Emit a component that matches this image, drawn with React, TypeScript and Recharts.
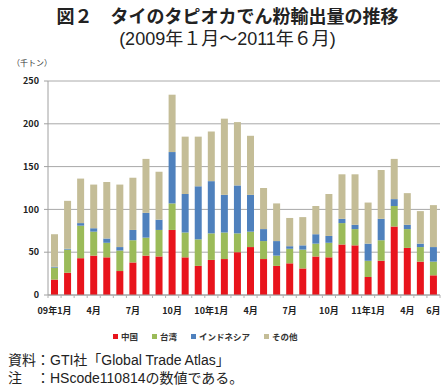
import React from 'react';
import { BarChart, Bar, XAxis, YAxis, CartesianGrid, ReferenceLine } from 'recharts';

// 2009年1月〜2011年6月（千トン）
const months = [
  '2009-01', '2009-02', '2009-03', '2009-04', '2009-05', '2009-06',
  '2009-07', '2009-08', '2009-09', '2009-10', '2009-11', '2009-12',
  '2010-01', '2010-02', '2010-03', '2010-04', '2010-05', '2010-06',
  '2010-07', '2010-08', '2010-09', '2010-10', '2010-11', '2010-12',
  '2011-01', '2011-02', '2011-03', '2011-04', '2011-05', '2011-06',
];

const tickLabels = [
  '09年1月', '', '', '4月', '', '', '7月', '', '', '10月', '', '',
  '10年1月', '', '', '4月', '', '', '7月', '', '', '10月', '', '',
  '11年1月', '', '', '4月', '', '6月',
];

const china = [18, 26, 43, 46, 44, 28, 38, 46, 45, 76, 44, 34, 41, 42, 50, 56, 42, 34, 37, 31, 45, 44, 59, 58, 21, 40, 80, 55, 39, 23];
const taiwan = [14, 27, 38, 28, 17, 24, 26, 21, 31, 31, 29, 31, 31, 31, 22, 18, 21, 12, 17, 22, 15, 17, 25, 19, 19, 24, 24, 22, 17, 16];
const indonesia = [1, 1, 3, 4, 5, 4, 12, 29, 12, 60, 45, 62, 61, 44, 56, 43, 14, 17, 3, 5, 11, 8, 5, 5, 20, 25, 8, 5, 4, 17];
const others = [38, 56, 52, 51, 66, 73, 61, 63, 56, 67, 67, 58, 58, 89, 74, 69, 48, 44, 33, 33, 33, 49, 52, 59, 48, 57, 47, 37, 38, 49];

const yTicks = [0, 50, 100, 150, 200, 250];

const series = [
  { key: 'china', name: '中国', color: '#e8141c' },
  { key: 'taiwan', name: '台湾', color: '#9bbb59' },
  { key: 'indonesia', name: 'インドネシア', color: '#4f81bd' },
  { key: 'others', name: 'その他', color: '#c4bd97' },
];

const data = months.map((m, i) => ({
  month: m,
  china: china[i],
  taiwan: taiwan[i],
  indonesia: indonesia[i],
  others: others[i],
}));

const FONT = '"Noto Sans CJK JP", "Noto Sans", sans-serif';
// latin first, CJK glyphs fall back to Noto
const TEXT_FONT = '"Liberation Sans", "Noto Sans CJK JP", sans-serif';
const HALF_BAND = 392 / months.length / 2;

const XTick = (props: any) => {
  const { x, y, payload } = props;
  const idx = months.indexOf(payload.value);
  const label = tickLabels[idx];
  return (
    <g>
      {idx === 0 && <line x1={x - HALF_BAND} y1={y} x2={x - HALF_BAND} y2={y + 3} stroke="#b0b0b0" />}
      <line x1={x + HALF_BAND} y1={y} x2={x + HALF_BAND} y2={y + 3} stroke="#b0b0b0" />
      {label && (
        <text x={x} y={y + 19} textAnchor="middle" fontSize={9} fontWeight={600} fill="#222" fontFamily={FONT}>
          {label}
        </text>
      )}
    </g>
  );
};

export default function App() {
  return (
    <div style={{ position: 'absolute', left: 0, top: 0, width: 447, height: 390, background: '#fff', fontFamily: FONT }}>
      <div style={{ position: 'absolute', top: 7, left: 4, width: 447, textAlign: 'center', fontFamily: TEXT_FONT, fontSize: 18, fontWeight: 700, lineHeight: '20px', color: '#222' }}>
        図２　タイのタピオカでん粉輸出量の推移
      </div>
      <div style={{ position: 'absolute', top: 29, left: 4, width: 447, textAlign: 'center', fontFamily: TEXT_FONT, fontSize: 18, fontWeight: 400, lineHeight: '20px', color: '#222' }}>
        (2009年１月～2011年６月)
      </div>
      <div style={{ position: 'absolute', top: 57, left: 12, fontSize: 8, color: '#333' }}>（千トン）</div>

      <BarChart
        width={447}
        height={345}
        data={data}
        margin={{ top: 81, right: 7, bottom: 30, left: 0 }}
        style={{ position: 'absolute', left: 0, top: 0 }}
      >
        <CartesianGrid vertical={false} stroke="#a8a8a8" />
        <ReferenceLine y={250} stroke="#d6d6d6" />
        <XAxis
          dataKey="month"
          interval={0}
          tickLine={false}
          tickSize={0}
          tickMargin={0}
          height={20}
          stroke="#a0a0a0"
          tick={<XTick />}
        />
        <YAxis
          width={48}
          domain={[0, 250]}
          ticks={yTicks}
          tickSize={4}
          tickMargin={5}
          stroke="#a0a0a0"
          tick={{ fontSize: 9, fill: '#222', fontWeight: 600, fontFamily: FONT }}
        />
        {series.map((s) => (
          <Bar key={s.key} dataKey={s.key} name={s.name} stackId="a" fill={s.color} barSize={7} isAnimationActive={false} />
        ))}
      </BarChart>

      <div style={{ position: 'absolute', top: 330, left: 113, display: 'flex', alignItems: 'center', fontSize: 8.5, fontWeight: 700, color: '#333' }}>
        {series.map((s) => (
          <div key={s.key} style={{ display: 'flex', alignItems: 'center', marginRight: 14 }}>
            <span style={{ display: 'inline-block', width: 5, height: 5, background: s.color, marginRight: 3 }} />
            <span>{s.name}</span>
          </div>
        ))}
      </div>

      <div style={{ position: 'absolute', top: 353, left: 8, fontFamily: TEXT_FONT, fontSize: 14, lineHeight: '15px', color: '#222' }}>
        資料：GTI社「Global Trade Atlas」
      </div>
      <div style={{ position: 'absolute', top: 371, left: 8, fontFamily: TEXT_FONT, fontSize: 14, lineHeight: '15px', color: '#222' }}>
        注　：HScode110814の数値である。
      </div>
    </div>
  );
}
